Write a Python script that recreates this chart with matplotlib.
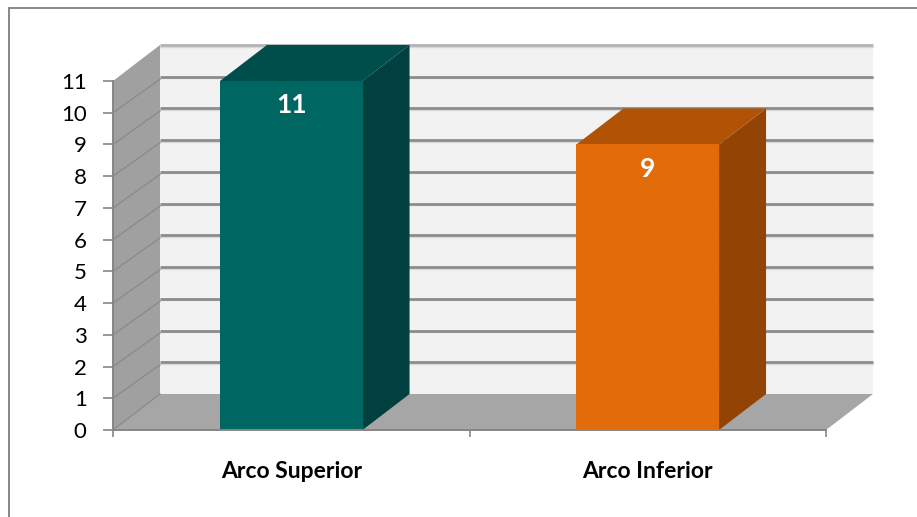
import matplotlib
matplotlib.use('Agg')
import matplotlib.pyplot as plt
from matplotlib.patches import Polygon, Rectangle

categories = ['Arco Superior', 'Arco Inferior']
values = [11, 9]
y_ticks = list(range(0, 12))

front_colors = ['#006661', '#e36c0a']
top_colors = ['#004e4c', '#b15205']
side_colors = ['#00403f', '#934405']

plt.rcParams['font.family'] = ['Lato', 'DejaVu Sans']

W, H = 917, 517
fig = plt.figure(figsize=(W / 100, H / 100), dpi=100)

# border of the chart area (right/bottom parts cut off in the original)
fig.patches.append(Rectangle((9 / W, -0.1), 1.2, (H - 8) / H + 0.1, transform=fig.transFigure,
                             fill=False, edgecolor='#868686', linewidth=1.4))

# front plane of the 3d box: x 113..826 px, y 430..81 px
ax = fig.add_axes([113 / W, (H - 430) / H, 713 / W, 349 / H])
ax.set_xlim(-0.5, 1.5)
ax.set_ylim(0, 11)
ax.set_facecolor('none')

# depth offset in data units
ox = 47 / 356.5
oy = 36 / 31.73
x0, x1 = -0.5, 1.5
ymax = 11

# back wall
ax.add_patch(Polygon([(x0 + ox, oy), (x1 + ox, oy), (x1 + ox, ymax + oy), (x0 + ox, ymax + oy)],
                     closed=True, facecolor='#f2f2f2', edgecolor='none', zorder=1, clip_on=False))
for v in y_ticks[1:]:
    col = '#b3b3b3' if v == ymax else '#8c8c8c'
    ax.plot([x0 + ox, x1 + ox], [v + oy, v + oy], color=col, lw=2.0, zorder=2, clip_on=False,
            solid_capstyle='butt')
    ax.plot([x0 + ox, x1 + ox], [v + oy - 0.05, v + oy - 0.05], color='#d9d9d9', lw=1, zorder=1.9,
            clip_on=False)

# side wall
ax.add_patch(Polygon([(x0, 0), (x0 + ox, oy), (x0 + ox, ymax + oy), (x0, ymax)],
                     closed=True, facecolor='#a0a0a0', edgecolor='none', zorder=3, clip_on=False))
for v in y_ticks[1:-1]:
    ax.plot([x0, x0 + ox], [v, v + oy * 0.93], color='#8a8a8a', lw=0.9, zorder=3.1, clip_on=False)

# floor
ax.add_patch(Polygon([(x0, 0), (x1, 0), (x1 + ox, oy), (x0 + ox, oy)],
                     closed=True, facecolor='#a6a6a6', edgecolor='none', zorder=3, clip_on=False))
ax.plot([x0, x0 + ox], [0, oy], color='#8a8a8a', lw=0.9, zorder=3.1, clip_on=False)

# bars
width = 0.4
xs = list(range(len(categories)))
bars = ax.bar(xs, values, width=width, color=front_colors, zorder=6)
for i, (x, v) in enumerate(zip(xs, values)):
    l, r = x - width / 2, x + width / 2
    ax.add_patch(Polygon([(r, 0), (r + ox, oy), (r + ox, v + oy), (r, v)], closed=True,
                         facecolor=side_colors[i], edgecolor='none', zorder=5, clip_on=False))
    ax.add_patch(Polygon([(l, v), (r, v), (r + ox, v + oy), (l + ox, v + oy)], closed=True,
                         facecolor=top_colors[i], edgecolor='none', zorder=5, clip_on=False))
    ax.text(x, v - 0.76, str(v), color='white', fontsize=19, fontweight='bold',
            ha='center', va='center', zorder=7)

# axes, ticks
for s in ['top', 'right']:
    ax.spines[s].set_visible(False)
ax.spines['left'].set_color('#868686')
ax.spines['bottom'].set_color('#868686')
ax.spines['left'].set_linewidth(1.4)
ax.spines['bottom'].set_linewidth(1.4)
ax.spines['left'].set_zorder(8)
ax.spines['bottom'].set_zorder(8)

ax.set_yticks(y_ticks)
ax.set_yticklabels([str(t) for t in y_ticks])
ax.tick_params(axis='y', length=7, width=1.2, color='#868686', labelsize=16, pad=12)

ax.set_xticks([x0, 0.5, x1])
ax.set_xticklabels([])
ax.set_xticks(xs, minor=True)
ax.set_xticklabels(categories, minor=True, fontweight='bold', fontsize=16.5)
ax.tick_params(axis='x', which='major', length=5, width=1.2, color='#868686')
ax.tick_params(axis='x', which='minor', length=0, pad=22)

fig.savefig('out.png', dpi=100)
